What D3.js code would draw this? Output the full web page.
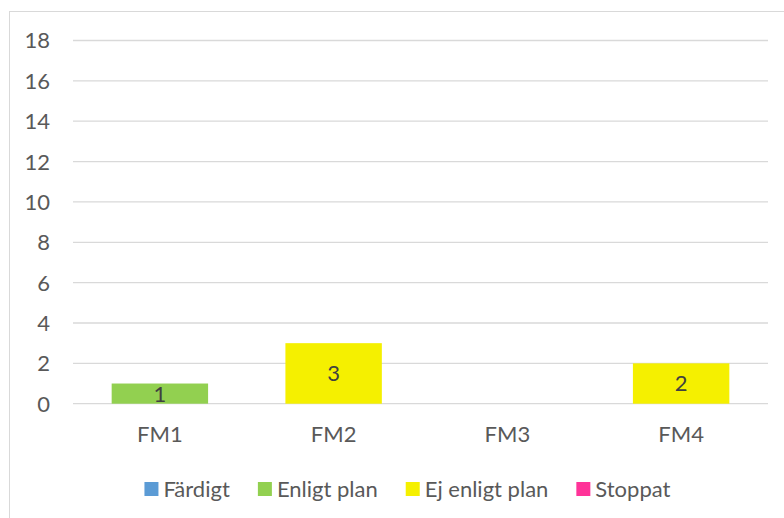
<!DOCTYPE html>
<html>
<head>
<meta charset="utf-8">
<script src="https://cdn.jsdelivr.net/npm/d3@7/dist/d3.min.js"></script>
<style>
  html, body { margin: 0; padding: 0; background: #fff; }
  svg { display: block; font-family: Lato, "Open Sans", sans-serif; }
</style>
</head>
<body>
<svg id="chart" width="784" height="518"></svg>
<script>
const categories = ["FM1", "FM2", "FM3", "FM4"];
const seriesNames = ["Färdigt", "Enligt plan", "Ej enligt plan", "Stoppat"];
const fardigt = [0, 0, 0, 0];
const enligtPlan = [1, 0, 0, 0];
const ejEnligtPlan = [0, 3, 0, 2];
const stoppat = [0, 0, 0, 0];
const yTicks = [0, 2, 4, 6, 8, 10, 12, 14, 16, 18];
const colors = ["#5B9BD5", "#92D050", "#F5F000", "#FF3399"];

const seriesValues = [fardigt, enligtPlan, ejEnligtPlan, stoppat];
const table = categories.map((c, i) => {
  const row = { cat: c };
  seriesNames.forEach((s, j) => row[s] = seriesValues[j][i]);
  return row;
});

const FS = "22px";
const svg = d3.select("#chart");
const plot = { left: 73, right: 768, top: 40.5, bottom: 403.7 };

// chart border
svg.append("rect")
  .attr("x", 9.5).attr("y", 11.5)
  .attr("width", 900).attr("height", 700)
  .attr("fill", "none").attr("stroke", "#d9d9d9").attr("stroke-width", 1);

const x = d3.scaleBand().domain(categories).range([plot.left, plot.right]).padding(0);
const barW = x.bandwidth() * 0.555;
const y = d3.scaleLinear().domain([0, 18]).range([plot.bottom, plot.top]);

// gridlines
svg.append("g").selectAll("line").data(yTicks).join("line")
  .attr("x1", plot.left).attr("x2", plot.right)
  .attr("y1", d => y(d)).attr("y2", d => y(d))
  .attr("stroke", "#d9d9d9").attr("stroke-width", 1.3);

// y axis labels
const yAxis = d3.axisLeft(y).tickValues(yTicks).tickSize(0).tickPadding(0);
const yg = svg.append("g").attr("transform", `translate(50,0)`).call(yAxis);
yg.select(".domain").remove();
yg.selectAll("text").attr("fill", "#595959").style("font-size", FS)
  .style("font-family", "Lato, 'Open Sans', sans-serif").attr("dy", "0.34em");

// x axis labels
const xAxis = d3.axisBottom(x).tickSize(0).tickPadding(0);
const xg = svg.append("g").attr("transform", `translate(0,${plot.bottom})`).call(xAxis);
xg.select(".domain").remove();
xg.selectAll("text").attr("fill", "#595959").style("font-size", FS)
  .style("font-family", "Lato, 'Open Sans', sans-serif").attr("y", 38.5).attr("dy", 0);

// stacked bars
const stack = d3.stack().keys(seriesNames);
const stacked = stack(table);
const layers = svg.append("g").selectAll("g").data(stacked).join("g")
  .attr("fill", (d, i) => colors[i]);
layers.selectAll("rect").data(d => d).join("rect")
  .attr("x", d => x(d.data.cat) + (x.bandwidth() - barW) / 2)
  .attr("width", barW)
  .attr("y", d => y(d[1]))
  .attr("height", d => y(d[0]) - y(d[1]));

// data labels
const labelData = [];
stacked.forEach(layer => layer.forEach(d => {
  const v = d[1] - d[0];
  if (v > 0) labelData.push({ cat: d.data.cat, mid: (d[0] + d[1]) / 2, v });
}));
svg.append("g").selectAll("text").data(labelData).join("text")
  .attr("x", d => x(d.cat) + x.bandwidth() / 2)
  .attr("y", d => y(d.mid))
  .attr("dy", "0.36em")
  .attr("text-anchor", "middle")
  .attr("fill", "#404040")
  .style("font-size", FS)
  .text(d => d.v);

// legend
const legend = svg.append("g");
const items = legend.selectAll("g").data(seriesNames).join("g");
items.append("rect").attr("width", 14).attr("height", 14).attr("y", -7)
  .attr("fill", (d, i) => colors[i]);
items.append("text").attr("x", 19).attr("dy", "0.36em")
  .attr("fill", "#595959").style("font-size", FS).text(d => d);
let cx = 0;
const gap = 28;
items.each(function () {
  const w = this.getBBox().width;
  d3.select(this).attr("transform", `translate(${cx},0)`);
  cx += w + gap;
});
const total = cx - gap;
legend.attr("transform", `translate(${407.5 - total / 2},489)`);
</script>
</body>
</html>
